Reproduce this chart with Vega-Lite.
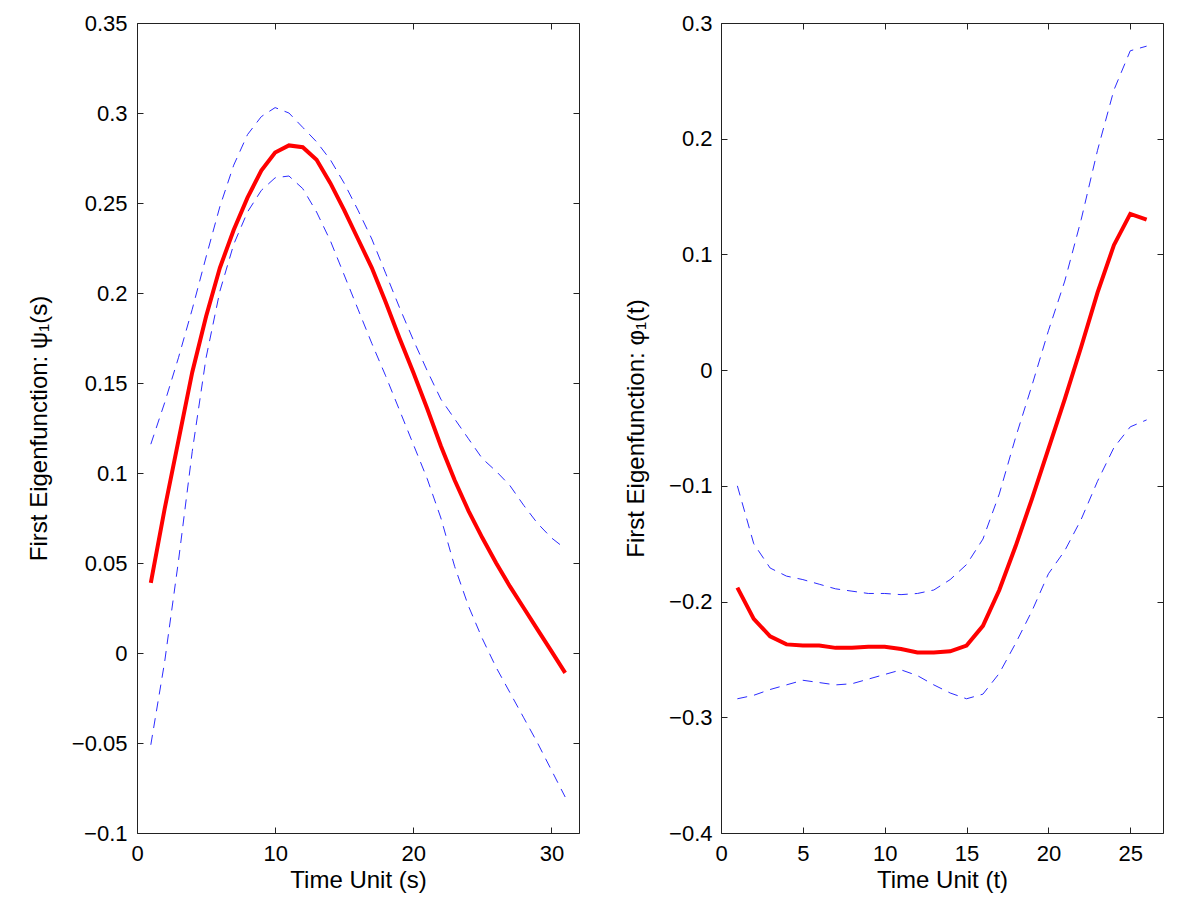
{
  "$schema": "https://vega.github.io/schema/vega-lite/v6.json",
  "padding": {"left": 26, "top": 11, "right": 5, "bottom": 0},
  "background": "white",
  "spacing": 44,
  "config": {
    "view": {"stroke": "#222", "strokeWidth": 1},
    "font": "Liberation Sans",
    "axis": {
      "grid": false,
      "domain": false,
      "tickColor": "#222",
      "tickSize": -6,
      "tickWidth": 1,
      "labelFont": "Liberation Sans",
      "labelFontSize": 22,
      "labelColor": "black",
      "titleFont": "Liberation Sans",
      "titleFontSize": 24,
      "titleFontWeight": "normal",
      "titleColor": "black",
      "format": "~r",
      "labelFlush": false,
      "labelOverlap": false
    }
  },
  "datasets": {
    "left": [
      {"s": 1, "mean": 0.039, "upper": 0.116, "lower": -0.051},
      {"s": 2, "mean": 0.080, "upper": 0.139, "lower": -0.005},
      {"s": 3, "mean": 0.118, "upper": 0.164, "lower": 0.051},
      {"s": 4, "mean": 0.156, "upper": 0.191, "lower": 0.112},
      {"s": 5, "mean": 0.187, "upper": 0.220, "lower": 0.164},
      {"s": 6, "mean": 0.214, "upper": 0.248, "lower": 0.201},
      {"s": 7, "mean": 0.235, "upper": 0.271, "lower": 0.227},
      {"s": 8, "mean": 0.253, "upper": 0.288, "lower": 0.245},
      {"s": 9, "mean": 0.268, "upper": 0.298, "lower": 0.257},
      {"s": 10, "mean": 0.278, "upper": 0.303, "lower": 0.264},
      {"s": 11, "mean": 0.282, "upper": 0.300, "lower": 0.265},
      {"s": 12, "mean": 0.281, "upper": 0.292, "lower": 0.258},
      {"s": 13, "mean": 0.274, "upper": 0.284, "lower": 0.245},
      {"s": 14, "mean": 0.261, "upper": 0.274, "lower": 0.229},
      {"s": 15, "mean": 0.246, "upper": 0.261, "lower": 0.210},
      {"s": 16, "mean": 0.230, "upper": 0.246, "lower": 0.191},
      {"s": 17, "mean": 0.214, "upper": 0.230, "lower": 0.172},
      {"s": 18, "mean": 0.195, "upper": 0.211, "lower": 0.154},
      {"s": 19, "mean": 0.175, "upper": 0.192, "lower": 0.135},
      {"s": 20, "mean": 0.156, "upper": 0.174, "lower": 0.116},
      {"s": 21, "mean": 0.136, "upper": 0.157, "lower": 0.097},
      {"s": 22, "mean": 0.115, "upper": 0.141, "lower": 0.075},
      {"s": 23, "mean": 0.096, "upper": 0.130, "lower": 0.048},
      {"s": 24, "mean": 0.079, "upper": 0.119, "lower": 0.026},
      {"s": 25, "mean": 0.064, "upper": 0.108, "lower": 0.008},
      {"s": 26, "mean": 0.050, "upper": 0.101, "lower": -0.008},
      {"s": 27, "mean": 0.037, "upper": 0.093, "lower": -0.022},
      {"s": 28, "mean": 0.025, "upper": 0.082, "lower": -0.036},
      {"s": 29, "mean": 0.013, "upper": 0.072, "lower": -0.050},
      {"s": 30, "mean": 0.001, "upper": 0.064, "lower": -0.065},
      {"s": 31, "mean": -0.011, "upper": 0.058, "lower": -0.080}
    ],
    "right": [
      {"t": 1, "mean": -0.188, "upper": -0.100, "lower": -0.284},
      {"t": 2, "mean": -0.215, "upper": -0.150, "lower": -0.281},
      {"t": 3, "mean": -0.230, "upper": -0.171, "lower": -0.276},
      {"t": 4, "mean": -0.237, "upper": -0.178, "lower": -0.272},
      {"t": 5, "mean": -0.238, "upper": -0.181, "lower": -0.268},
      {"t": 6, "mean": -0.238, "upper": -0.185, "lower": -0.270},
      {"t": 7, "mean": -0.240, "upper": -0.189, "lower": -0.272},
      {"t": 8, "mean": -0.240, "upper": -0.191, "lower": -0.271},
      {"t": 9, "mean": -0.239, "upper": -0.193, "lower": -0.267},
      {"t": 10, "mean": -0.239, "upper": -0.193, "lower": -0.263},
      {"t": 11, "mean": -0.241, "upper": -0.194, "lower": -0.259},
      {"t": 12, "mean": -0.244, "upper": -0.193, "lower": -0.264},
      {"t": 13, "mean": -0.244, "upper": -0.190, "lower": -0.272},
      {"t": 14, "mean": -0.243, "upper": -0.181, "lower": -0.279},
      {"t": 15, "mean": -0.238, "upper": -0.168, "lower": -0.284},
      {"t": 16, "mean": -0.221, "upper": -0.146, "lower": -0.280},
      {"t": 17, "mean": -0.190, "upper": -0.107, "lower": -0.262},
      {"t": 18, "mean": -0.152, "upper": -0.058, "lower": -0.236},
      {"t": 19, "mean": -0.111, "upper": -0.013, "lower": -0.208},
      {"t": 20, "mean": -0.068, "upper": 0.034, "lower": -0.176},
      {"t": 21, "mean": -0.025, "upper": 0.077, "lower": -0.156},
      {"t": 22, "mean": 0.020, "upper": 0.130, "lower": -0.129},
      {"t": 23, "mean": 0.067, "upper": 0.190, "lower": -0.096},
      {"t": 24, "mean": 0.108, "upper": 0.242, "lower": -0.067},
      {"t": 25, "mean": 0.135, "upper": 0.276, "lower": -0.049},
      {"t": 26, "mean": 0.130, "upper": 0.280, "lower": -0.043}
    ]
  },
  "hconcat": [
    {
      "width": 442,
      "height": 810,
      "data": {"name": "left"},
      "layer": [
        {
          "mark": {"type": "line", "color": "#2b2bff", "strokeWidth": 1, "strokeDash": [10, 7]},
          "encoding": {
            "x": {"field": "s", "type": "quantitative", "scale": {"domain": [0, 32], "nice": false, "zero": false},
                  "axis": {"orient": "bottom", "values": [0, 10, 20, 30], "title": "Time Unit (s)", "labelPadding": 16.5, "titlePadding": 4}},
            "y": {"field": "upper", "type": "quantitative", "scale": {"domain": [-0.1, 0.35], "nice": false, "zero": false},
                  "axis": {"orient": "left", "values": [-0.1, -0.05, 0, 0.05, 0.1, 0.15, 0.2, 0.25, 0.3, 0.35], "title": "First Eigenfunction: ψ₁(s)", "labelPadding": 16, "titlePadding": 20}}
          }
        },
        {
          "mark": {"type": "line", "color": "#2b2bff", "strokeWidth": 1, "strokeDash": [10, 7]},
          "encoding": {
            "x": {"field": "s", "type": "quantitative",
                  "axis": {"orient": "top", "values": [0, 10, 20, 30], "labels": false, "title": null}},
            "y": {"field": "lower", "type": "quantitative",
                  "axis": {"orient": "right", "values": [-0.1, -0.05, 0, 0.05, 0.1, 0.15, 0.2, 0.25, 0.3, 0.35], "labels": false, "title": null}}
          }
        },
        {
          "mark": {"type": "line", "color": "#ff0000", "strokeWidth": 4},
          "encoding": {
            "x": {"field": "s", "type": "quantitative", "axis": null},
            "y": {"field": "mean", "type": "quantitative", "axis": null}
          }
        }
      ]
    },
    {
      "width": 442,
      "height": 810,
      "data": {"name": "right"},
      "layer": [
        {
          "mark": {"type": "line", "color": "#2b2bff", "strokeWidth": 1, "strokeDash": [10, 7]},
          "encoding": {
            "x": {"field": "t", "type": "quantitative", "scale": {"domain": [0, 27], "nice": false, "zero": false},
                  "axis": {"orient": "bottom", "values": [0, 5, 10, 15, 20, 25], "title": "Time Unit (t)", "labelPadding": 16.5, "titlePadding": 4}},
            "y": {"field": "upper", "type": "quantitative", "scale": {"domain": [-0.4, 0.3], "nice": false, "zero": false},
                  "axis": {"orient": "left", "values": [-0.4, -0.3, -0.2, -0.1, 0, 0.1, 0.2, 0.3], "title": "First Eigenfunction: φ₁(t)", "labelPadding": 15, "titlePadding": 20}}
          }
        },
        {
          "mark": {"type": "line", "color": "#2b2bff", "strokeWidth": 1, "strokeDash": [10, 7]},
          "encoding": {
            "x": {"field": "t", "type": "quantitative",
                  "axis": {"orient": "top", "values": [0, 5, 10, 15, 20, 25], "labels": false, "title": null}},
            "y": {"field": "lower", "type": "quantitative",
                  "axis": {"orient": "right", "values": [-0.4, -0.3, -0.2, -0.1, 0, 0.1, 0.2, 0.3], "labels": false, "title": null}}
          }
        },
        {
          "mark": {"type": "line", "color": "#ff0000", "strokeWidth": 4},
          "encoding": {
            "x": {"field": "t", "type": "quantitative", "axis": null},
            "y": {"field": "mean", "type": "quantitative", "axis": null}
          }
        }
      ]
    }
  ]
}
